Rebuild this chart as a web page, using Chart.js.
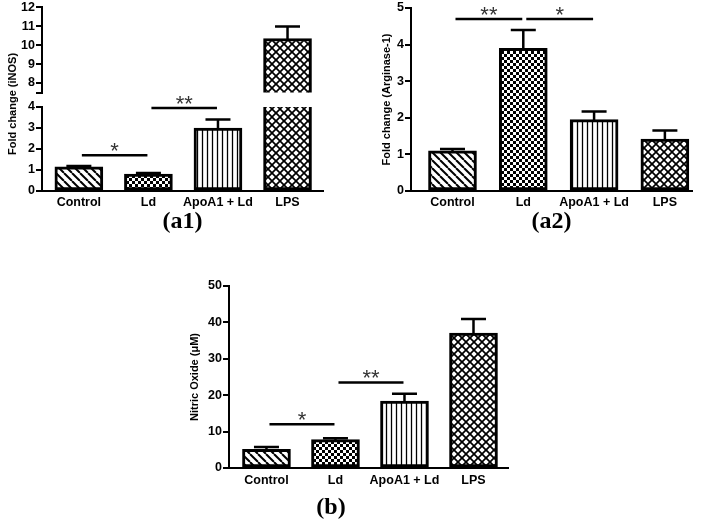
<!DOCTYPE html>
<html>
<head>
<meta charset="utf-8">
<script src="https://cdn.jsdelivr.net/npm/chart.js@4.4.1/dist/chart.umd.min.js"></script>
<style>
body { margin: 0; background: #fff; width: 703px; height: 521px; overflow: hidden; position: relative; }
canvas { position: absolute; }
#a1title { position: absolute; left: 12px; top: 104px; transform: translate(-50%, -50%) rotate(-90deg);
  font: bold 11px "Liberation Sans", Arial, sans-serif; white-space: nowrap; color: #000; }
</style>
</head>
<body>
<canvas id="a1up" width="340" height="100" style="left:0;top:0"></canvas>
<canvas id="a1low" width="340" height="160" style="left:0;top:85px"></canvas>
<canvas id="a2" width="343" height="245" style="left:360px;top:0"></canvas>
<canvas id="b" width="358" height="250" style="left:154px;top:270px"></canvas>
<div id="a1title">Fold change (iNOS)</div>
<script>
var groups = ["Control", "Ld", "ApoA1 + Ld", "LPS"];

// (a1) iNOS, broken axis
var inosMean = [1.15, 0.8, 3.0, 10.35];
var inosSem = [0.04, 0.06, 0.4, 0.63];
var inosLowTicks = [0, 1, 2, 3, 4];
var inosHighTicks = [8, 9, 10, 11, 12];
var inosSig = [[0, 1, 1.7, "*"], [1, 2, 3.95, "**"]];

// (a2) arginase-1
var argMean = [1.1, 3.9, 1.95, 1.42];
var argSem = [0.05, 0.5, 0.22, 0.23];
var argTicks = [0, 1, 2, 3, 4, 5];
var argSig = [[0, 1, 4.7, "**"], [1, 2, 4.7, "*"]];

// (b) nitric oxide
var noMean = [5.1, 7.8, 18.4, 37.1];
var noSem = [0.7, 0.35, 2.0, 3.8];
var noTicks = [0, 10, 20, 30, 40, 50];
var noSig = [[0, 1, 12, "*"], [1, 2, 23.5, "**"]];

Chart.defaults.font.family = "'Liberation Sans', Arial, sans-serif";
Chart.defaults.color = "#000";

function line(g, x1, y1, x2, y2) {
    g.beginPath(); g.moveTo(x1, y1); g.lineTo(x2, y2); g.stroke();
}

// hatch fills
function pattern(kind) {
    var s = kind == "check" ? 6 : kind == "vert" ? 5 : 8;
    var c = document.createElement("canvas");
    c.width = s; c.height = s;
    var g = c.getContext("2d");
    g.fillStyle = "#fff"; g.fillRect(0, 0, s, s);
    g.strokeStyle = "#000"; g.fillStyle = "#000";
    if (kind == "check") {
        g.fillRect(0, 0, 3, 3); g.fillRect(3, 3, 3, 3);
    } else if (kind == "vert") {
        g.lineWidth = 1.3; line(g, 2.5, 0, 2.5, s);
    } else {
        g.lineWidth = kind == "diag" ? 2 : 1.7;
        for (var k = -s; k <= s; k += s) {
            line(g, k, 0, k + s, s);
            if (kind == "cross") line(g, k + s, 0, k, s);
        }
    }
    return g.createPattern(c, "repeat");
}
var fills = [pattern("diag"), pattern("check"), pattern("vert"), pattern("cross")];

// error bars + significance lines
var marks = {
    id: "marks",
    afterDatasetsDraw(chart, args, opts) {
        var ctx = chart.ctx, a = chart.chartArea, x = chart.scales.x, y = chart.scales.y;
        var ds = chart.data.datasets[0];
        var bars = chart.getDatasetMeta(0).data;
        ctx.save();
        ctx.beginPath();
        ctx.rect(a.left, a.top - 2, a.right - a.left, a.bottom - a.top + 2);
        ctx.clip();
        ctx.strokeStyle = "#000";
        ctx.lineWidth = 2.5;
        bars.forEach(function (bar, i) {
            var top = y.getPixelForValue(ds.data[i].y + ds.sem[i]);
            ctx.beginPath();
            ctx.moveTo(bar.x, bar.y + 1);
            ctx.lineTo(bar.x, top);
            ctx.moveTo(bar.x - 12.5, top);
            ctx.lineTo(bar.x + 12.5, top);
            ctx.stroke();
        });
        ctx.restore();

        ctx.save();
        ctx.strokeStyle = "#000";
        ctx.lineWidth = 2.5;
        ctx.fillStyle = "#333";
        ctx.font = "22px 'Liberation Sans', Arial";
        ctx.textAlign = "center";
        (opts.lines || []).forEach(function (s) {
            var py = y.getPixelForValue(s[2]);
            var x1 = x.getPixelForValue(s[0]) + 3, x2 = x.getPixelForValue(s[1]) - 1;
            line(ctx, x1, py, x2, py);
            ctx.fillText(s[3], (x1 + x2) / 2, py + 3);
        });
        ctx.restore();
    }
};

function makeChart(id, o) {
    var tickFont = { size: 12.5, weight: "bold", lineHeight: 1 };
    return new Chart(document.getElementById(id), {
        type: "bar",
        data: {
            datasets: [{
                data: o.mean.map(function (v, i) { return { x: i, y: v }; }),
                sem: o.sem,
                backgroundColor: fills,
                borderColor: "#000",
                borderWidth: 3,
                borderSkipped: false,
                barThickness: 48,
                clip: 0
            }]
        },
        options: {
            responsive: false,
            animation: false,
            events: [],
            layout: { padding: { left: 0, top: o.padTop, right: o.padRight, bottom: o.padBottom } },
            plugins: {
                legend: { display: false },
                tooltip: { enabled: false },
                title: {
                    display: !!o.caption,
                    text: o.caption || "",
                    position: "bottom",
                    fullSize: !!o.fullSize,
                    color: "#000",
                    font: { family: "'Liberation Serif', 'Times New Roman', serif", size: 24, weight: "bold", lineHeight: 1 },
                    padding: { top: o.capPad || 0, bottom: 0 }
                },
                marks: { lines: o.sig || [] }
            },
            scales: {
                x: {
                    type: "linear",
                    display: o.showX !== false,
                    min: o.xMin, max: o.xMax,
                    offset: false,
                    grid: { display: false, drawTicks: false },
                    border: { display: true, color: "#000", width: 2 },
                    ticks: {
                        padding: o.labelPad || 4, maxRotation: 0, autoSkip: false,
                        font: { size: 12.5, weight: "bold" },
                        callback: function (v) { return groups[v]; }
                    },
                    afterBuildTicks: function (s) { s.ticks = groups.map(function (g, i) { return { value: i }; }); },
                    afterFit: function (s) { s.height = o.xH || 0; }
                },
                y: {
                    min: o.yMin, max: o.yMax,
                    grid: { display: true, drawOnChartArea: false, drawTicks: true, tickLength: 6, lineWidth: 2, color: "#000" },
                    border: { display: true, color: "#000", width: 2 },
                    ticks: {
                        padding: 1, font: tickFont,
                        callback: function (v) { return o.yTicks.indexOf(v) < 0 ? "" : v; }
                    },
                    afterBuildTicks: function (s) {
                        var t = o.yTicks.slice();
                        if (o.breakAt !== undefined) t.unshift(o.breakAt);
                        s.ticks = t.map(function (v) { return { value: v }; });
                    },
                    afterFit: function (s) { s.width = o.yW; },
                    title: {
                        display: !!o.yTitle,
                        text: o.yTitle || "",
                        font: { size: 11, weight: "bold" },
                        padding: { top: o.yTitlePad || 0, bottom: 0 }
                    }
                }
            }
        },
        plugins: [marks]
    });
}

// (a1) upper part of the broken axis
makeChart("a1up", {
    mean: inosMean, sem: inosSem, yMin: 7.5, yMax: 12, yTicks: inosHighTicks, breakAt: 7.5,
    xMin: -0.53, xMax: 3.51, showX: false,
    padTop: 7, padRight: 17, padBottom: 7.5, yW: 42
});
// (a1) lower part
makeChart("a1low", {
    mean: inosMean, sem: inosSem, yMin: 0, yMax: 4, yTicks: inosLowTicks, sig: inosSig,
    xMin: -0.53, xMax: 3.51, xH: 19, labelPad: 4,
    padTop: 22, padRight: 17, padBottom: 11, yW: 42,
    caption: "(a1)", fullSize: false
});
// (a2)
makeChart("a2", {
    mean: argMean, sem: argSem, yMin: 0, yMax: 5, yTicks: argTicks, sig: argSig,
    xMin: -0.586, xMax: 3.383, xH: 19, labelPad: 4,
    padTop: 8, padRight: 11, padBottom: 11, yW: 51,
    yTitle: "Fold change (Arginase-1)", yTitlePad: 20.4,
    caption: "(a2)", fullSize: false
});
// (b)
makeChart("b", {
    mean: noMean, sem: noSem, yMin: 0, yMax: 50, yTicks: noTicks, sig: noSig,
    xMin: -0.543, xMax: 3.5, xH: 20, labelPad: 5,
    padTop: 16, padRight: 4, padBottom: 0, yW: 75,
    yTitle: "Nitric Oxide (\u03bcM)", yTitlePad: 34.4,
    caption: "(b)", fullSize: true, capPad: 8
});
</script>
</body>
</html>
